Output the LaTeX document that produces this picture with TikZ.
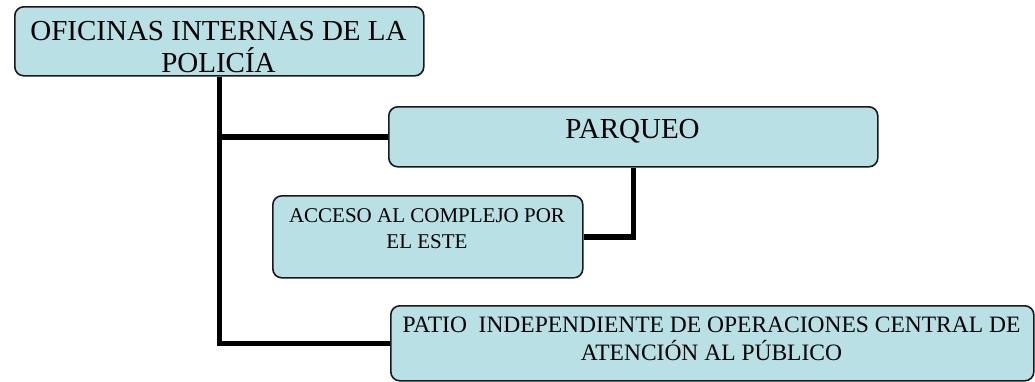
\documentclass[tikz,border=0pt]{standalone}
\usepackage{fontspec}
\setmainfont{Liberation Serif}
\usetikzlibrary{backgrounds}
\definecolor{boxfill}{RGB}{185,224,228}
\definecolor{boxline}{RGB}{25,25,25}
\begin{document}
\begin{tikzpicture}[x=1pt,y=-1pt,
  box/.style={draw=boxline, line width=1.6pt, fill=boxfill, rounded corners=9pt, inner sep=0pt, anchor=north west},
  txt/.style={anchor=north, inner sep=0pt, align=center},
  conn/.style={draw=black, line width=5.5pt, line join=miter}]
\useasboundingbox (0,0) rectangle (1035,381);
% boxes
\node[box, minimum width=409pt, minimum height=69pt] (b1) at (14,6) {};
\node[box, minimum width=489pt, minimum height=60pt] (par) at (388,106) {};
\node[box, minimum width=310pt, minimum height=82pt] (acc) at (272,195) {};
\node[box, minimum width=643pt, minimum height=75pt] (pat) at (390,305) {};
% connectors behind the boxes
\begin{scope}[on background layer]
\draw[conn] (b1.south) |- (pat.west);
\draw[conn] (b1.south |- par.west) -- (par.west);
\draw[conn] (par.south) |- (acc.east);
\end{scope}
% texts
\node[txt, font=\fontsize{29}{32}\selectfont] (b1t) at (218.5,20.8) {OFICINAS INTERNAS DE LA\\POLICÍA};
\node[txt, font=\fontsize{29}{32}\selectfont] (part) at (632.5,118.8) {PARQUEO};
\node[txt, font=\fontsize{21}{26}\selectfont] (acct) at (427,208.1) {ACCESO AL COMPLEJO POR\\EL ESTE};
\node[txt, font=\fontsize{23.5}{28}\selectfont] (patt) at (711.5,316.4) {PATIO\ \ INDEPENDIENTE DE OPERACIONES CENTRAL DE\\ATENCIÓN AL PÚBLICO};
\end{tikzpicture}
\end{document}
